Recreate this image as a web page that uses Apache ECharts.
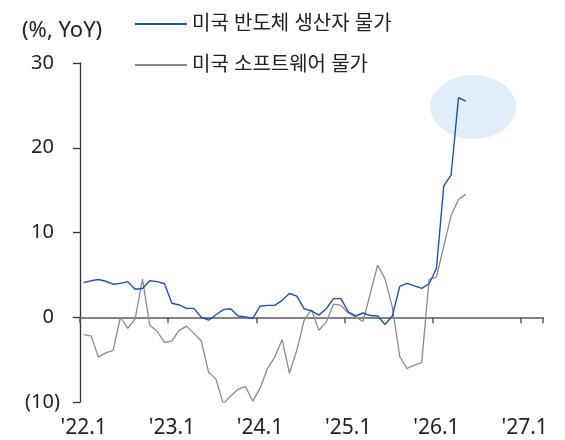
<!DOCTYPE html>
<html>
<head>
<meta charset="utf-8">
<script src="https://cdn.jsdelivr.net/npm/echarts@6/dist/echarts.min.js"></script>
<style>html,body{margin:0;padding:0;background:#fff}#c{width:565px;height:440px}</style>
</head>
<body>
<div id="c"></div>
<script>
// months '22.1 ... '27.3
const categories = [];
for (let y = 22; y <= 27; y++) for (let m = 1; m <= 12; m++) { if (y === 27 && m > 3) break; categories.push("'" + y + "." + m); }

const semiName = '미국 반도체 생산자 물가';
const softName = '미국 소프트웨어 물가';

const semiPPI = [4.1, 4.3, 4.45, 4.25, 3.9, 4.0, 4.2, 3.3, 3.4, 4.3, 4.2, 3.95,
  1.65, 1.45, 1.05, 1.05, 0.0, -0.35, 0.3, 0.9, 1.0, 0.15, 0.05, -0.15,
  1.3, 1.4, 1.4, 2.0, 2.8, 2.5, 1.0, 0.75, 0.25, 1.0, 2.2, 2.2,
  0.65, 0.15, 0.5, 0.2, 0.15, -0.85, 0.15, 3.65, 4.0, 3.7, 3.4, 3.95,
  5.75, 15.5, 16.8, 25.9, 25.5];

const software = [-2.05, -2.2, -4.7, -4.2, -3.9, 0.0, -1.3, -0.2, 4.5, -0.95, -1.65, -3.0,
  -2.8, -1.55, -1.05, -1.9, -2.8, -6.5, -7.3, -10.2, -9.3, -8.5, -8.15, -9.9,
  -8.4, -6.05, -4.7, -2.65, -6.6, -3.9, -0.35, 0.9, -1.55, -0.55, 1.55, 1.4,
  0.5, 0.05, -0.5, 2.8, 6.15, 4.55, 1.2, -4.6, -6.05, -5.65, -5.35, 4.45,
  4.75, 8.4, 12.0, 13.9, 14.5];

const yTicks = [-10, 0, 10, 20, 30];
const highlight = ["'26.6", 24.8];

const FONT = '"Noto Sans", "Noto Sans CJK KR", sans-serif';
const chart = echarts.init(document.getElementById('c'), null, {renderer: 'canvas'});
chart.setOption({
  animation: false,
  backgroundColor: '#fff',
  textStyle: {fontFamily: FONT},
  title: {
    text: '(%, YoY)', left: 17, top: 15,
    textStyle: {fontSize: 22, fontWeight: 'normal', color: '#222', fontFamily: FONT}
  },
  legend: {
    orient: 'vertical', left: 129, top: 9,
    itemWidth: 52, itemHeight: 20, itemGap: 21,
    itemStyle: {opacity: 0},
    textStyle: {fontSize: 20, color: '#222', fontFamily: FONT},
    data: [semiName, softName]
  },
  grid: {left: 80, right: 22, top: 63, bottom: 38, containLabel: false},
  xAxis: [{
    type: 'category', data: categories, boundaryGap: true, position: 'bottom',
    axisLine: {onZero: true, lineStyle: {color: '#595959', width: 1.5}},
    axisTick: {show: true, interval: 11, length: 6, lineStyle: {color: '#595959', width: 1.5}},
    axisLabel: {show: false},
    splitLine: {show: false}
  }, {
    type: 'category', data: categories, boundaryGap: true, position: 'bottom',
    axisLine: {show: false, onZero: false},
    axisTick: {show: false},
    axisLabel: {interval: 11, margin: 26, verticalAlign: 'middle', fontSize: 21, color: '#222', fontFamily: FONT},
    splitLine: {show: false}
  }],
  yAxis: {
    type: 'value', min: -10, max: 30, interval: 10,
    axisLine: {show: true, lineStyle: {color: '#333', width: 1.3}},
    axisTick: {show: true, length: 7, lineStyle: {color: '#333', width: 1.3}},
    axisLabel: {
      margin: 20, fontSize: 20, color: '#222', fontFamily: FONT,
      formatter: v => yTicks.includes(v) ? (v < 0 ? '(' + Math.abs(v) + ')' : v + '{h|)}') : '',
      rich: {h: {fontSize: 20, color: 'rgba(0,0,0,0)', fontFamily: FONT}}
    },
    splitLine: {show: false}
  },
  series: [{
    type: 'scatter', xAxisIndex: 0, silent: true, z: 1,
    data: [highlight], symbol: 'circle', symbolSize: [86, 64],
    itemStyle: {color: '#d9e8f6'}
  }, {
    name: semiName, type: 'line', data: semiPPI, symbol: 'none', z: 3,
    lineStyle: {color: '#2050b0', width: 1.4}, itemStyle: {color: '#2050b0'}
  }, {
    name: softName, type: 'line', data: software, symbol: 'none', z: 2,
    lineStyle: {color: '#8a8a8a', width: 1.3}, itemStyle: {color: '#8a8a8a'}
  }]
});
</script>
</body>
</html>
